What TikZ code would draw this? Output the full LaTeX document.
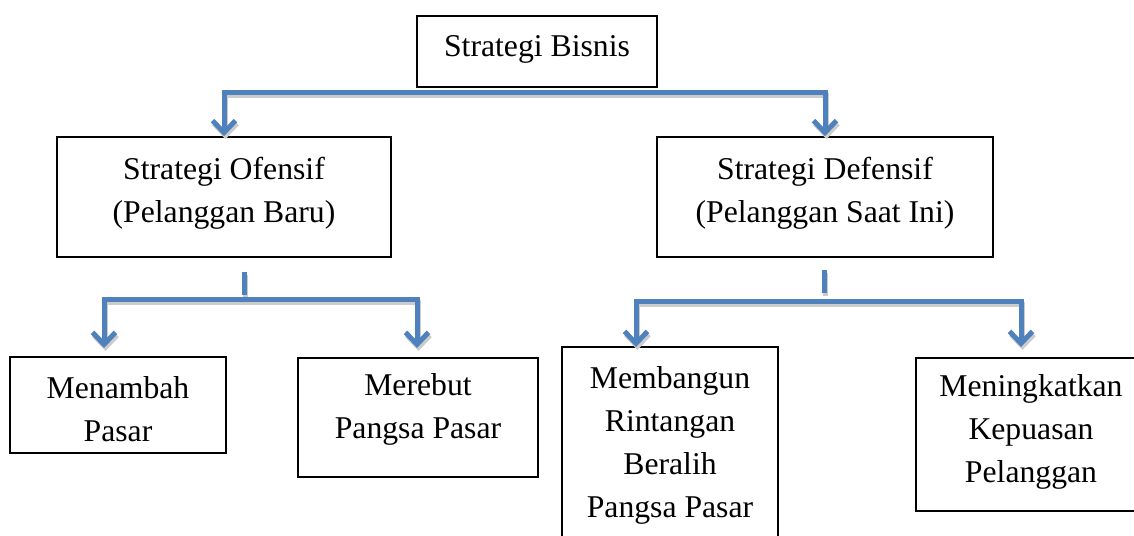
\documentclass[tikz,border=0pt]{standalone}
\usepackage{fontspec}
\setmainfont{Liberation Serif}
\usetikzlibrary{arrows.meta,calc}
\definecolor{linkblue}{HTML}{4F81BD}
\tikzset{
  box/.style={draw=black, line width=1.6pt, inner sep=0pt, fill=white},
  txt/.style={align=center, inner sep=0pt, font=\fontsize{31.7}{43}\selectfont},
  barb/.tip={Straight Barb[length=12pt,width=23pt]},
  link/.style={draw=linkblue, line width=5pt, line join=miter},
  lshadow/.style={draw=black!20, line width=5pt, line join=miter,
    transform canvas={shift={(1.5pt,-3pt)}}},
}
\begin{document}
\begin{tikzpicture}[x=1pt,y=-1pt]
\useasboundingbox (0,0) rectangle (1134,535);
\clip (0,0) rectangle (1134,535);

% boxes
\node[box, minimum width=240pt, minimum height=71pt] (top) at (537,51.5) {};
\node[box, minimum width=334pt, minimum height=120pt] (ofensif) at (224,197) {};
\node[box, minimum width=336pt, minimum height=120pt] (defensif) at (825,197) {};
\node[box, minimum width=216pt, minimum height=96pt] (menambah) at (118,405) {};
\node[box, minimum width=240pt, minimum height=119pt] (merebut) at (418,417.5) {};
\node[box, minimum width=216pt, minimum height=200pt] (membangun) at (670,447) {};
\node[box, minimum width=230pt, minimum height=153pt] (meningkatkan) at (1031,434.5) {};

% texts
\node[txt] (ttop) at ($(top.north)+(0,34)$) {Strategi Bisnis};
\node[txt] (tofensif) at ($(ofensif.north)+(0,57.5)$) {Strategi Ofensif\\(Pelanggan Baru)};
\node[txt] (tdefensif) at ($(defensif.north)+(0,57.5)$) {Strategi Defensif\\(Pelanggan Saat Ini)};
\node[txt] (tmenambah) at ($(menambah.north)+(0,53)$) {Menambah\\Pasar};
\node[txt] (tmerebut) at ($(merebut.north)+(0,52.5)$) {Merebut\\Pangsa Pasar};
\node[txt] (tmembangun) at ($(membangun.north)+(0,99.5)$) {Membangun\\Rintangan\\Beralih\\Pangsa Pasar};
\node[txt] (tmeningkatkan) at ($(meningkatkan.north)+(0,75)$) {Meningkatkan\\Kepuasan\\Pelanggan};

% connector coordinates
\coordinate (tL) at (ofensif.north |- 0,92);
\coordinate (tR) at (defensif.north |- 0,92);

\coordinate (s1a) at (244,272);
\coordinate (s1b) at (244,295);
\coordinate (a1) at (104,348);
\coordinate (b1L) at (104,299);
\coordinate (b1R) at (417,299);
\coordinate (a2) at (417,348);

\coordinate (s2a) at (824,270);
\coordinate (s2b) at (824,293);
\coordinate (a3) at (636,347);
\coordinate (b2L) at (636,301);
\coordinate (b2R) at (1021,301);
\coordinate (a4) at (1021,347);

% shadows
\draw[lshadow, barb-barb] (ofensif.north) -- (tL) -- (tR) -- (defensif.north);
\draw[lshadow] (s1a) -- (s1b);
\draw[lshadow, barb-barb] (a1) -- (b1L) -- (b1R) -- (a2);
\draw[lshadow] (s2a) -- (s2b);
\draw[lshadow, barb-barb] (a3) -- (b2L) -- (b2R) -- (a4);

% connectors
\draw[link, barb-barb] (ofensif.north) -- (tL) -- (tR) -- (defensif.north);
\draw[link] (s1a) -- (s1b);
\draw[link, barb-barb] (a1) -- (b1L) -- (b1R) -- (a2);
\draw[link] (s2a) -- (s2b);
\draw[link, barb-barb] (a3) -- (b2L) -- (b2R) -- (a4);
\end{tikzpicture}
\end{document}
